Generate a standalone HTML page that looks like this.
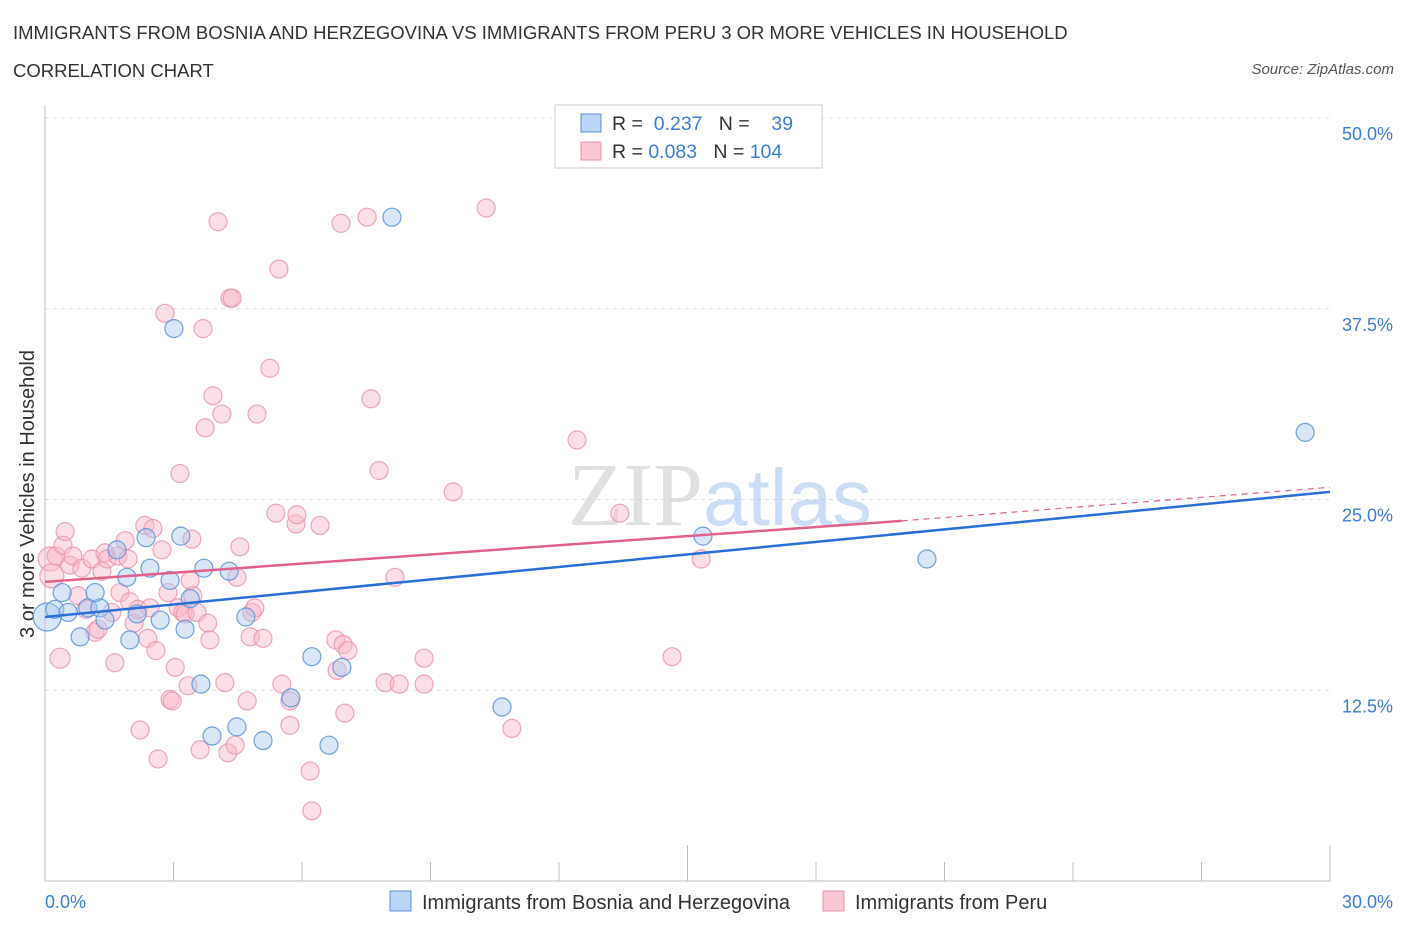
<!DOCTYPE html>
<html><head><meta charset="utf-8">
<style>
body{margin:0;background:#fff;font-family:"Liberation Sans",sans-serif;}
#wrap{position:relative;width:1406px;height:930px;overflow:hidden;}
.t{position:absolute;white-space:nowrap;}
</style></head>
<body>
<div id="wrap">
<div class="t" style="left:13px;top:22px;font-size:18.5px;color:#333;">IMMIGRANTS FROM BOSNIA AND HERZEGOVINA VS IMMIGRANTS FROM PERU 3 OR MORE VEHICLES IN HOUSEHOLD</div>
<div class="t" style="left:13px;top:60px;font-size:18.5px;color:#333;">CORRELATION CHART</div>
<div class="t" style="right:12px;top:61px;font-size:15px;color:#555;font-style:italic;">Source: ZipAtlas.com</div>
<svg id="svg" width="1406" height="930" style="position:absolute;left:0;top:0"></svg>
</div>
<script>
const yTicks=[12.5,25,37.5,50];
const yTickLabels=["12.5%","25.0%","37.5%","50.0%"];
const xTickLabels=["0.0%","30.0%"];
const blueX=[0.05,0.23,0.40,0.54,1.0,1.28,0.82,1.17,1.40,1.68,1.91,1.98,2.15,2.45,2.36,2.69,2.92,3.01,3.17,3.27,3.39,3.71,3.64,3.90,4.30,4.48,4.69,5.09,5.74,6.23,6.63,6.93,8.10,10.67,15.36,20.59,29.42];
const blueY=[17.3,17.8,18.9,17.6,17.9,17.9,16.0,18.9,17.1,21.7,19.9,15.8,17.5,20.5,22.5,17.1,19.7,36.2,22.6,16.5,18.5,20.5,12.9,9.5,20.3,10.1,17.3,9.2,12.0,14.7,8.9,14.0,43.5,11.4,22.6,21.1,29.4];
const blueR=[14,9,9,9,9,9,9,9,9,9,9,9,9,9,9,9,9,9,9,9,9,9,9,9,9,9,9,9,9,9,9,9,9,9,9,9,9];
const pinkX=[0.12,0.16,0.26,0.35,0.42,0.47,0.58,0.65,0.77,0.86,0.96,1.10,1.17,1.24,1.33,1.40,1.45,1.56,1.63,1.70,1.75,1.87,1.94,1.98,2.08,2.17,2.22,2.33,2.40,2.45,2.52,2.59,2.64,2.73,2.80,2.87,2.92,2.97,3.04,3.11,3.15,3.22,3.27,3.34,3.39,3.43,3.45,3.55,3.62,3.69,3.74,3.80,3.85,3.92,4.04,4.13,4.20,4.27,4.32,4.37,4.44,4.48,4.55,4.72,4.79,4.83,4.90,4.95,5.09,5.25,5.39,5.46,5.53,5.72,5.72,5.86,5.88,6.19,6.23,6.42,6.79,6.82,6.91,6.96,7.00,7.07,7.52,7.61,7.80,7.94,8.17,8.27,8.85,8.85,9.53,10.30,10.90,12.42,13.42,14.64,15.32];
const pinkY=[21.1,20.0,21.3,14.6,22.0,22.9,20.7,21.3,18.7,20.5,17.8,21.1,16.3,16.5,20.3,21.5,21.1,17.6,14.3,21.3,18.9,22.3,21.1,18.3,16.9,17.8,9.9,23.3,15.9,17.9,23.1,15.1,8.0,21.7,37.2,18.9,11.9,11.8,14.0,17.9,26.7,17.6,17.5,12.8,19.7,22.4,18.7,17.6,8.6,36.2,29.7,16.9,15.8,31.8,43.2,30.6,13.0,8.4,38.2,38.2,8.9,19.9,21.9,11.8,16.0,17.6,17.9,30.6,15.9,33.6,24.1,40.1,12.9,10.2,11.8,23.4,24.0,7.2,4.6,23.3,15.8,13.8,43.1,15.5,11.0,15.1,43.5,31.6,26.9,13.0,19.9,12.9,12.9,14.6,25.5,44.1,10.0,28.9,24.1,14.7,21.1];
const pinkR=[12,12,9,10,9,9,9,9,9,9,9,9,9,9,9,9,9,9,9,9,9,9,9,9,9,9,9,9,9,9,9,9,9,9,9,9,9,9,9,9,9,9,9,9,9,9,9,9,9,9,9,9,9,9,9,9,9,9,9,9,9,9,9,9,9,9,9,9,9,9,9,9,9,9,9,9,9,9,9,9,9,9,9,9,9,9,9,9,9,9,9,9,9,9,9,9,9,9,9,9,9];
const blueLine=[0,17.3,30,25.5];
const pinkLine=[0,19.6,20,23.6,30,25.8];

const X=v=>45+v*(1285/30);
const Y=v=>881-v*(763/50);
const svg=document.getElementById('svg');
const NS="http://www.w3.org/2000/svg";
function mk(tag,attrs,name,parent){const e=document.createElementNS(NS,tag);for(const k in attrs)e.setAttribute(k,attrs[k]);


(parent||svg).appendChild(e);return e;}
yTicks.forEach((t,i)=>{
 mk('line',{x1:45,x2:1330,y1:Y(t),y2:Y(t),stroke:'#ddd','stroke-dasharray':'4,4'},'gridline');
 const tx=mk('text',{x:1393,y:Y(t)+22,'text-anchor':'end','font-size':18,fill:'#3b7dd8','font-family':'Liberation Sans'},'y-tick-label');tx.textContent=yTickLabels[i];
});
mk('line',{x1:45,x2:1330,y1:881,y2:881,stroke:'#bbb'},'x-axis');
mk('line',{x1:45,x2:45,y1:105,y2:881,stroke:'#bbb'},'y-axis');
for(let i=0;i<=10;i++){mk('line',{x1:X(i*3),x2:X(i*3),y1:881,y2:i%5==0?845:862,stroke:'#bbb'},'x-tick');}
const xl0=mk('text',{x:45,y:908,'font-size':18,fill:'#3b7dd8','font-family':'Liberation Sans'},'x-tick-label');xl0.textContent=xTickLabels[0];
const xl1=mk('text',{x:1393,y:908,'text-anchor':'end','font-size':18,fill:'#3b7dd8','font-family':'Liberation Sans'},'x-tick-label');xl1.textContent=xTickLabels[1];
const yt=mk('text',{x:34,y:494,transform:'rotate(-90 34 494)','text-anchor':'middle','font-size':20,fill:'#333','font-family':'Liberation Sans'},'y-axis-title');yt.textContent='3 or more Vehicles in Household';
const wm=mk('text',{x:720,y:525,'text-anchor':'middle','font-size':90,'font-family':'Liberation Serif',fill:'#ccc','fill-opacity':0.6},'watermark');
wm.innerHTML='ZIP<tspan font-family="Liberation Sans" fill="#a9c6ec" font-size="80">atlas</tspan>';
pinkX.forEach((x,i)=>{mk('circle',{cx:X(x),cy:Y(pinkY[i]),r:pinkR[i],fill:'#f7b6c8','fill-opacity':0.45,stroke:'#e890aa','stroke-opacity':0.8,'stroke-width':1.2},'peru-point');});
blueX.forEach((x,i)=>{mk('circle',{cx:X(x),cy:Y(blueY[i]),r:blueR[i],fill:'#a9c8f0','fill-opacity':0.45,stroke:'#5a90d8','stroke-opacity':0.85,'stroke-width':1.2},'bosnia-point');});
mk('line',{x1:X(blueLine[0]),y1:Y(blueLine[1]),x2:X(blueLine[2]),y2:Y(blueLine[3]),stroke:'#2a6fd6','stroke-width':2.5},'bosnia-trend-line');
mk('line',{x1:X(pinkLine[0]),y1:Y(pinkLine[1]),x2:X(pinkLine[2]),y2:Y(pinkLine[3]),stroke:'#e0628a','stroke-width':2.5},'peru-trend-line');
mk('line',{x1:X(pinkLine[2]),y1:Y(pinkLine[3]),x2:X(pinkLine[4]),y2:Y(pinkLine[5]),stroke:'#e0628a','stroke-width':1.2,'stroke-dasharray':'6,5'},'peru-trend-extension');
mk('rect',{x:555,y:105,width:267,height:63,fill:'#fff',stroke:'#ccc'},'stats-legend');
mk('rect',{x:581,y:114,width:20,height:18,fill:'#bcd4f6',stroke:'#5a90d8'},'bosnia-swatch');
mk('rect',{x:581,y:142,width:20,height:18,fill:'#f9c6d4',stroke:'#e890aa'},'peru-swatch');
const l1=mk('text',{x:612,y:130,'font-size':19.5,fill:'#333','font-family':'Liberation Sans'},'bosnia-stats');
l1.innerHTML='R = <tspan fill="#3b7dd8"> 0.237</tspan>   N =  <tspan fill="#3b7dd8">  39</tspan>';
const l2=mk('text',{x:612,y:158,'font-size':19.5,fill:'#333','font-family':'Liberation Sans'},'peru-stats');
l2.innerHTML='R = <tspan fill="#3b7dd8">0.083</tspan>   N = <tspan fill="#3b7dd8">104</tspan>';
l1.style.whiteSpace='pre';l2.style.whiteSpace='pre';
mk('rect',{x:390,y:891,width:21,height:20,fill:'#bcd4f6',stroke:'#5a90d8'},'legend-bosnia-swatch');
const b1=mk('text',{x:422,y:909,'font-size':20,fill:'#333','font-family':'Liberation Sans'},'legend-bosnia');b1.textContent='Immigrants from Bosnia and Herzegovina';
mk('rect',{x:823,y:891,width:21,height:20,fill:'#f9c6d4',stroke:'#e890aa'},'legend-peru-swatch');
const b2=mk('text',{x:855,y:909,'font-size':20,fill:'#333','font-family':'Liberation Sans'},'legend-peru');b2.textContent='Immigrants from Peru';
</script>
</body></html>
